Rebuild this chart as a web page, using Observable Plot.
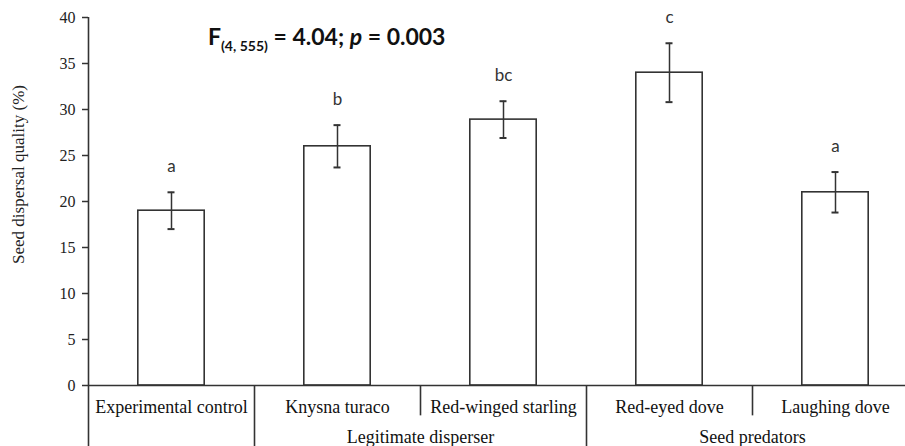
<!DOCTYPE html>
<html>
<head>
<meta charset="utf-8">
<script src="https://cdn.jsdelivr.net/npm/d3@7"></script>
<script src="https://cdn.jsdelivr.net/npm/@observablehq/plot@0.6"></script>
<style>
  html, body { margin: 0; padding: 0; background: #fff; }
  #wrap { position: relative; width: 905px; height: 446px; overflow: hidden; }
  #title { position: absolute; left: 208px; top: 22px; font-family: Lato, "Open Sans", sans-serif; font-weight: 700; font-size: 23px; color: #111; white-space: nowrap; }
  #title sub { font-size: 14px; vertical-align: -6px; }
</style>
</head>
<body>
<div id="wrap"><div id="title">F<sub>(4, 555)</sub> = 4.04; <i>p</i> = 0.003</div></div>
<script>
const categories = ["Experimental control", "Knysna turaco", "Red-winged starling", "Red-eyed dove", "Laughing dove"];
const means = [19, 26, 28.9, 34, 21];
const errors = [2.0, 2.3, 2.0, 3.2, 2.2];
const letters = ["a", "b", "bc", "c", "a"];
const groupLabels = ["Legitimate disperser", "Seed predators"];
const groupStart = [1, 3];
const groupEnd = [2, 4];
const yTicks = [0, 5, 10, 15, 20, 25, 30, 35, 40];
const yLabel = "Seed dispersal quality (%)";

const data = categories.map((c, i) => ({
  c, i, mean: means[i], lo: means[i] - errors[i], hi: means[i] + errors[i], letter: letters[i]
}));
const groups = groupLabels.map((g, k) => ({g, mid: (groupStart[k] + groupEnd[k]) / 2, start: groupStart[k] - 0.5}));
const fullSeps = groups.map(d => d.start);
const shortSeps = groups.map(d => d.mid);

const ink = "#333";
const serif = "'Liberation Serif', 'Times New Roman', serif";
const sans = "Lato, 'Open Sans', sans-serif";
const bottomY = -7;   // extends below baseline to the figure bottom
const shortY = -3.3;  // short divider depth

const chart = Plot.plot({
  width: 905,
  height: 446,
  marginLeft: 88,
  marginRight: 0,
  marginTop: 17,
  marginBottom: 61,
  x: {type: "linear", domain: [-0.5, 4.5], range: [88, 918], axis: null},
  y: {domain: [0, 40], ticks: yTicks},
  style: {background: "#fff", overflow: "visible"},
  marks: [
    Plot.axisY({ticks: yTicks, tickSize: 6, tickPadding: 7, label: null, fontSize: 16, fontFamily: serif, stroke: ink, color: "#222", strokeWidth: 1.5}),
    Plot.text([yLabel], {frameAnchor: "left", textAnchor: "middle", rotate: -90, dx: -70, dy: -27, fontSize: 17, fontFamily: serif, fill: "#222"}),
    Plot.rectY(data, {x1: d => d.i - 0.2, x2: d => d.i + 0.2, y1: 0, y2: "mean", fill: "#fff", stroke: ink, strokeWidth: 1.6}),
    Plot.ruleX(data, {x: "i", y1: "lo", y2: "hi", stroke: ink, strokeWidth: 1.5}),
    Plot.ruleY(data, {x1: "i", x2: "i", y: "hi", insetLeft: -3.5, insetRight: -3.5, stroke: ink, strokeWidth: 2}),
    Plot.ruleY(data, {x1: "i", x2: "i", y: "lo", insetLeft: -3.5, insetRight: -3.5, stroke: ink, strokeWidth: 2}),
    Plot.text(data, {x: "i", y: "hi", text: "letter", dy: -26, fontSize: 17, fontFamily: sans, fill: "#333"}),
    Plot.ruleY([0], {stroke: ink, strokeWidth: 1.6, clip: false}),
    Plot.ruleX([-0.5], {y1: 40, y2: bottomY, stroke: ink, strokeWidth: 1.6}),
    Plot.ruleX(fullSeps, {x: d => d, y1: 0, y2: bottomY, stroke: ink, strokeWidth: 1.6}),
    Plot.ruleX(shortSeps, {x: d => d, y1: 0, y2: shortY, stroke: ink, strokeWidth: 1.6}),
    Plot.text(data, {x: "i", y: 0, text: "c", dy: 22, fontSize: 18, fontFamily: serif, fill: "#111"}),
    Plot.text(groups, {x: "mid", y: 0, text: "g", dy: 52, fontSize: 18, fontFamily: serif, fill: "#111"})
  ]
});
document.getElementById("wrap").prepend(chart);
</script>
</body>
</html>
